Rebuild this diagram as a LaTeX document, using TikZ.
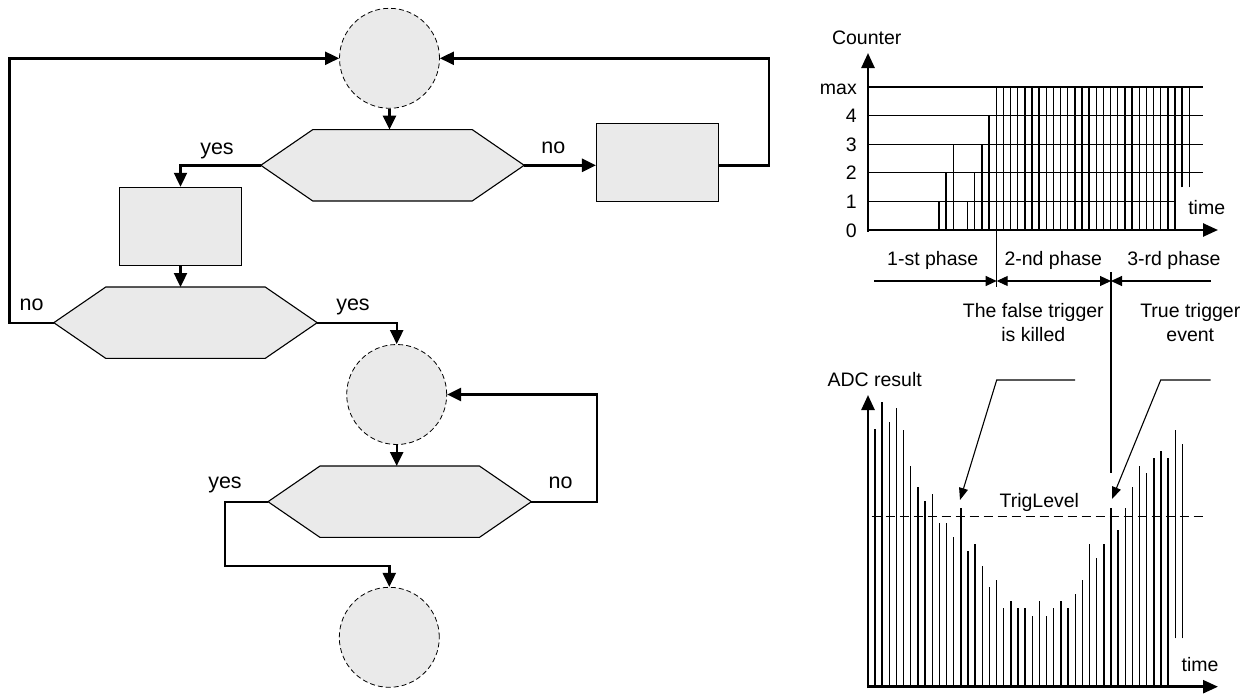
\documentclass[tikz,border=0pt]{standalone}
\usepackage{fontspec}
\setmainfont{Liberation Sans}
\usetikzlibrary{arrows.meta,calc}
\definecolor{cFill}{HTML}{EAEAEA}
\tikzset{
  flow/.style={line width=2.4pt, -{Triangle[length=14pt,width=13pt]}},
  joint/.style={circle, draw=black, dash pattern=on 5pt off 3pt, line width=0.8pt,
                fill=cFill, minimum size=100pt, inner sep=0pt},
  actbox/.style={rectangle, draw=black, line width=1.1pt, fill=cFill,
                 minimum width=122pt, minimum height=78pt, inner sep=0pt},
  hexbox/.style={rectangle, minimum width=263pt, minimum height=71pt, inner sep=0pt},
  hexline/.style={draw=black, line width=1.1pt, fill=cFill},
  yn/.style={font=\fontsize{21.5}{24}\selectfont, anchor=base, inner sep=0pt},
  txt/.style={font=\fontsize{19.5}{24.3}\selectfont, anchor=base, inner sep=0pt, align=center},
  tick/.style={font=\fontsize{19.5}{24.3}\selectfont, anchor=base east, inner sep=0pt},
  axis/.style={line width=2.5pt, -{Triangle[length=15pt,width=13pt]}},
  level/.style={line width=1.1pt},
  bar/.style={line width=1.4pt},
  phase/.style={line width=1.1pt},
  ptip/.style={-{Triangle[length=11pt,width=10pt]}},
  lead/.style={line width=1.1pt, -{Triangle[length=12pt,width=9pt]}},
}
% hexagon drawn over an (invisible) hexbox node
\newcommand{\hexdraw}[1]{%
  \draw[hexline] (#1.west) -- ([xshift=52pt]#1.north west) -- ([xshift=-52pt]#1.north east)
    -- (#1.east) -- ([xshift=-52pt]#1.south east) -- ([xshift=52pt]#1.south west) -- cycle;}

\begin{document}
\begin{tikzpicture}[x=1pt,y=-1pt]
\useasboundingbox (0,0) rectangle (1254,696);

% ========== FLOWCHART ==========
\node[joint] (c1) at (389.5,58.3) {};
\node[hexbox] (h1) at (392.5,165.3) {}; \hexdraw{h1}
\node[actbox] (r1) at (180.5,226.3) {};
\node[actbox] (r2) at (657.5,162.2) {};
\node[hexbox] (h2) at (185.5,322.7) {}; \hexdraw{h2}
\node[joint] (c2) at (396.7,394.5) {};
\node[hexbox] (h3) at (399.7,501.7) {}; \hexdraw{h3}
\node[joint] (c3) at (389.3,637.3) {};

\draw[flow] (c1.south) -- (c1.south |- h1.north);
\draw[flow] (h1.west) -| (r1.north);
\draw[flow] (h1.east) -- (h1.east -| r2.west);
\draw[flow] (r2.east |- h1.east) -- ++(50,0) |- (c1.east);
\draw[flow] (r1.south) -- (r1.south |- h2.north);
\draw[flow] (h2.west) -- ++(-44.3,0) |- (c1.west);
\draw[flow] (h2.east) -| (c2.north);
\draw[flow] (c2.south) -- (c2.south |- h3.north);
\draw[flow] (h3.east) -- ++(65.7,0) |- (c2.east);
\draw[flow] (h3.west) -- ++(-43.3,0) -- ++(0,64.3) -| (c3.north);

\node[yn] (yes1) at (217,154) {yes};
\node[yn] (no1)  at (553.3,153.3) {no};
\node[yn] (no2)  at (31.7,310) {no};
\node[yn] (yes2) at (353,310) {yes};
\node[yn] (yes3) at (225,488.3) {yes};
\node[yn] (no3)  at (560.7,488.3) {no};

% ========== COUNTER ==========
\coordinate (cO) at (868,230);
\foreach \l/\xe in {1/1175,2/1203.3,3/1203.3,4/1203.3,5/1203.3}
  \draw[level] (cO) ++(0,-28.6*\l) -- (\xe,{230-28.6*\l});
\foreach \h [count=\k from 0] in {1,2,3,0,1,2,3,4} {
  \ifnum\h>0
    \draw[bar] (939+7.15*\k,230) -- (939+7.15*\k,{230-28.6*\h});
  \fi
}
\foreach \k in {8,...,33}
  \draw[bar] (939+7.15*\k,230) -- (939+7.15*\k,87);
\foreach \k in {34,35}
  \draw[bar] (939+7.15*\k,187.3) -- (939+7.15*\k,87);
\draw[axis] (868,231.5) -- (868,53);
\draw[axis] (866.8,230) -- (1218,230);
\foreach \l/\t in {0/0,1/1,2/2,3/3,4/4,5/max}
  \node[tick] (tk\l) at (857,{237-28.6*\l}) {\t};
\node[txt] (cnt) at (866.7,45) {Counter};
\node[txt] (ct) at (1206.7,214) {time};

% ========== PHASES ==========
\draw[phase] (996.7,87) -- (996.7,287);
\draw[phase] (1111,272) -- (1111,473);
\draw[phase, ptip] (874,281) -- (996.7,281);
\draw[phase, {Triangle[length=11pt,width=10pt]}-{Triangle[length=11pt,width=10pt]}] (996.7,281) -- (1111,281);
\draw[phase, ptip] (1210.7,281) -- (1111,281);
\node[txt] (ph1) at (932.7,265) {1-st phase};
\node[txt] (ph2) at (1053.3,265) {2-nd phase};
\node[txt] (ph3) at (1174,265) {3-rd phase};

% ========== ADC ==========
\coordinate (aO) at (868,686.7);
\foreach \t [count=\j from 0] in {429.3,401.7,422.3,408.3,430,465.7,487,501,494,522.7,
    522.7,537,508.3,551.3,544,565.7,586.7,580,608.3,601.3,608.3,608.3,615.7,601.3,
    615.7,608.3,601.3,608.3,594,580,544,558.3,544,508.3,529.7,508.3,487,465.7,472.7,
    458.3,451.3,458.3}
  \draw[bar] (875+7.15*\j,686.7) -- (875+7.15*\j,\t);
\draw[bar] (875+7.15*42,638.3) -- (875+7.15*42,430);
\draw[bar] (875+7.15*43,638.3) -- (875+7.15*43,444);
\draw[line width=1.1pt, dash pattern=on 9pt off 5pt] (871.7,516.7) -- (1204,516.7);
\draw[axis] (868,688.2) -- (868,395);
\draw[axis] (866.8,686.7) -- (1218,686.7);
\node[txt] (adc) at (874.7,386.7) {ADC result};
\node[txt] (at) at (1200,671.7) {time};
\node[txt] (trl) at (1039.3,507.3) {TrigLevel};

\node[txt] (fls) at (1033.3,341.7) {The false trigger\\is killed};
\node[txt] (tru) at (1190.3,341.7) {True trigger\\event};
\draw[lead] (1075,380) -- (996.7,380) -- (960,500);
\draw[lead] (1210.7,380) -- (1160.7,380) -- (1112,499);

\end{tikzpicture}
\end{document}
